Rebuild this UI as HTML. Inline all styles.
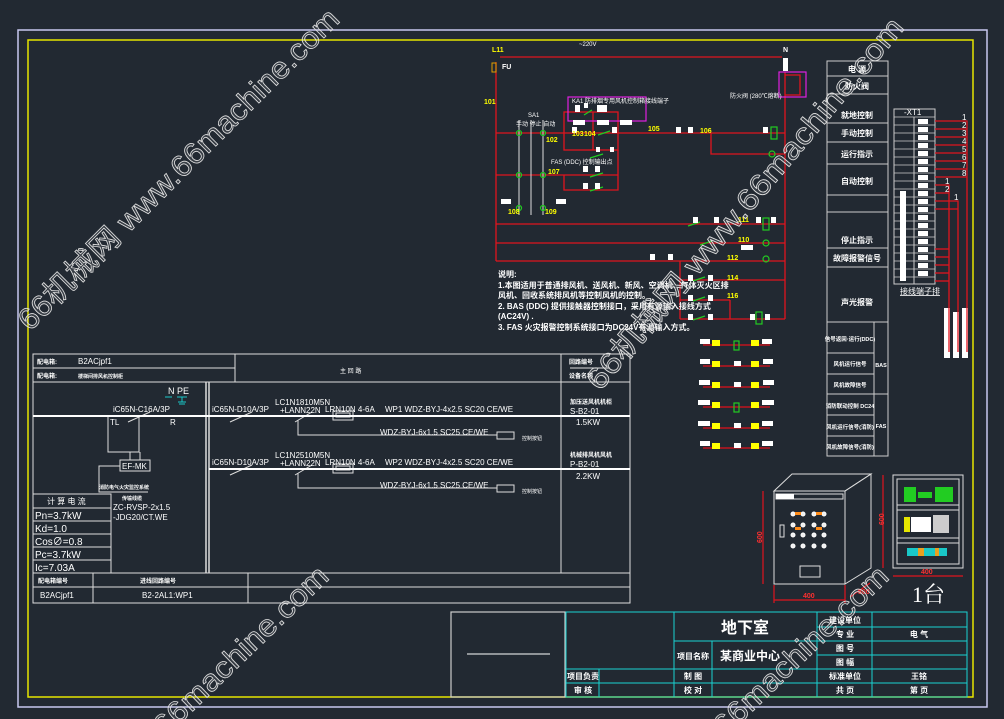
<!DOCTYPE html>
<html><head><meta charset="utf-8"><style>
html,body{margin:0;padding:0;background:#222932;}
svg{display:block;font-family:"Liberation Sans","Noto Sans CJK SC",sans-serif;}
.w{fill:#fff;font-size:8px;}
.y{fill:#ff0;font-size:7px;font-weight:bold;}
.wm{fill:rgba(255,255,255,0.10);stroke:#e0e0e0;stroke-width:0.8;font-size:30px;font-family:"Liberation Sans","Noto Sans CJK SC",sans-serif;}
</style></head><body>
<svg width="1004" height="719" viewBox="0 0 1004 719" xmlns="http://www.w3.org/2000/svg">
<rect width="1004" height="719" fill="#222932"/>
<rect x="18" y="30" width="969" height="677" fill="none" stroke="#c8c8f0" stroke-width="1.5"/>
<rect x="28" y="40" width="945" height="657" fill="none" stroke="#e6e600" stroke-width="1.5"/>

<g stroke="#e0141e" stroke-width="1.3" fill="none">
<line x1="496" y1="62" x2="496" y2="261"/>
<line x1="500" y1="57" x2="782" y2="57"/>
<line x1="785" y1="72" x2="785" y2="319"/>
<line x1="496" y1="133" x2="785" y2="133"/>
<line x1="496" y1="175" x2="618" y2="175"/>
<line x1="496" y1="224" x2="785" y2="224"/>
<line x1="496" y1="243" x2="785" y2="243"/>
<line x1="496" y1="261" x2="785" y2="261"/>
<polyline points="711,133 711,154 785,154"/>
<rect x="564" y="112" width="54" height="38"/>
<line x1="593" y1="112" x2="593" y2="150"/>
<polyline points="564,175 564,190 618,190 618,150"/>
<line x1="680" y1="261" x2="680" y2="319"/>
<line x1="680" y1="280" x2="785" y2="280"/>
<line x1="680" y1="300" x2="730" y2="300"/>
<line x1="730" y1="300" x2="730" y2="319"/>
<line x1="680" y1="319" x2="785" y2="319"/>
<polyline points="785,75 800,75 800,95 785,95"/>
</g>
<rect x="568" y="97" width="78" height="24" fill="none" stroke="#e020e0" stroke-width="1.2"/>
<rect x="779" y="72" width="27" height="25" fill="none" stroke="#e020e0" stroke-width="1.2"/>
<g stroke="#ddd" stroke-width="1"><line x1="519" y1="120" x2="519" y2="215"/><line x1="531" y1="120" x2="531" y2="215"/><line x1="543" y1="120" x2="543" y2="215"/></g>
<g fill="none" stroke="#22cc22" stroke-width="1.2">
<circle cx="519" cy="133" r="2.5"/><circle cx="543" cy="133" r="2.5"/><circle cx="519" cy="175" r="2.5"/><circle cx="543" cy="175" r="2.5"/><circle cx="519" cy="208" r="2.5"/><circle cx="543" cy="208" r="2.5"/>
<rect x="771" y="127" width="6" height="12"/><circle cx="772" cy="154" r="3"/><rect x="763" y="218" width="6" height="12"/><circle cx="766" cy="243" r="3"/><circle cx="766" cy="259" r="3"/><rect x="756" y="312" width="6" height="12"/>
<line x1="598" y1="135" x2="610" y2="131"/><line x1="688" y1="226" x2="700" y2="222"/><line x1="700" y1="245" x2="712" y2="241"/><line x1="693" y1="281" x2="705" y2="277"/><line x1="693" y1="301" x2="705" y2="297"/><line x1="693" y1="320" x2="705" y2="316"/><line x1="590" y1="158" x2="603" y2="154"/><line x1="590" y1="177" x2="603" y2="173"/><line x1="590" y1="191" x2="603" y2="187"/><line x1="584" y1="115" x2="592" y2="110"/>
</g>
<g class="w" font-size="7"><rect x="783" y="58" width="5" height="13" fill="#fff"/>
<rect x="575" y="105" width="5" height="7" fill="#fff"/><rect x="584" y="103" width="4" height="5" fill="#fff"/><rect x="597" y="105" width="5" height="7" fill="#fff"/><rect x="602" y="105" width="5" height="7" fill="#fff"/>
<rect x="573" y="120" width="12" height="5" fill="#fff"/><rect x="597" y="120" width="12" height="5" fill="#fff"/><rect x="620" y="120" width="12" height="5" fill="#fff"/>
<rect x="572" y="127" width="5" height="6" fill="#fff"/><rect x="612" y="127" width="5" height="6" fill="#fff"/><rect x="596" y="147" width="4" height="5" fill="#fff"/><rect x="610" y="147" width="4" height="5" fill="#fff"/>
<rect x="583" y="166" width="5" height="6" fill="#fff"/><rect x="595" y="166" width="5" height="6" fill="#fff"/><rect x="583" y="183" width="5" height="6" fill="#fff"/><rect x="595" y="183" width="5" height="6" fill="#fff"/>
<rect x="501" y="199" width="10" height="5" fill="#fff"/><rect x="556" y="199" width="10" height="5" fill="#fff"/>
<rect x="693" y="217" width="5" height="6" fill="#fff"/><rect x="714" y="217" width="5" height="6" fill="#fff"/><rect x="756" y="217" width="5" height="6" fill="#fff"/><rect x="771" y="217" width="5" height="6" fill="#fff"/><rect x="741" y="245" width="12" height="5" fill="#fff"/><rect x="650" y="254" width="5" height="6" fill="#fff"/><rect x="668" y="254" width="5" height="6" fill="#fff"/><rect x="688" y="275" width="5" height="6" fill="#fff"/><rect x="708" y="275" width="5" height="6" fill="#fff"/><rect x="688" y="295" width="5" height="6" fill="#fff"/><rect x="708" y="295" width="5" height="6" fill="#fff"/><rect x="688" y="314" width="5" height="6" fill="#fff"/><rect x="708" y="314" width="5" height="6" fill="#fff"/><rect x="750" y="314" width="5" height="6" fill="#fff"/><rect x="765" y="314" width="5" height="6" fill="#fff"/><rect x="676" y="127" width="5" height="6" fill="#fff"/><rect x="688" y="127" width="5" height="6" fill="#fff"/><rect x="763" y="127" width="5" height="6" fill="#fff"/>
<text x="579" y="46" font-size="6">~220V</text><text x="730" y="98" font-size="6">防火阀 (280℃熔断)</text>
<text x="572" y="103" font-size="6">KA1 防排烟专用风机控制箱接线端子</text>
<text x="551" y="164" font-size="6">FAS (DDC) 控制输出点</text>
<text x="528" y="117" font-size="6">SA1</text><text x="516" y="126" font-size="6">手动  停止  自动</text>
</g>
<g class="y"><text x="492" y="52">L11</text><text x="484" y="104">101</text><text x="502" y="69" fill="#fff">FU</text><text x="546" y="142">102</text><text x="572" y="136">103</text><text x="584" y="136">104</text><text x="648" y="131">105</text><text x="700" y="133">106</text><text x="548" y="174">107</text><text x="508" y="214">108</text><text x="545" y="214">109</text><text x="738" y="222">111</text><text x="738" y="242">110</text><text x="727" y="260">112</text><text x="727" y="280">114</text><text x="727" y="298">116</text><text x="783" y="52" fill="#fff">N</text></g>
<rect x="492" y="63" width="4" height="9" fill="none" stroke="#e0a000"/>
<g class="w" font-size="7.5" font-weight="bold">
<text x="498" y="277">说明:</text>
<text x="498" y="288">1.本图适用于普通排风机、送风机、新风、空调机、气体灭火区排</text>
<text x="498" y="298">风机、回收系统排风机等控制风机的控制。</text>
<text x="498" y="309">2. BAS (DDC) 提供接触器控制接口，采用有源输入接线方式</text>
<text x="498" y="319">(AC24V) .</text>
<text x="498" y="330">3. FAS 火灾报警控制系统接口为DC24V有源输入方式。</text>
</g>

<g stroke="#c0141e" stroke-width="1.5">
<line x1="703" y1="345" x2="770" y2="345"/><line x1="703" y1="366" x2="770" y2="366"/><line x1="703" y1="387" x2="770" y2="387"/><line x1="703" y1="407" x2="770" y2="407"/><line x1="703" y1="428" x2="770" y2="428"/><line x1="703" y1="448" x2="770" y2="448"/>
</g>
<g fill="#ff0"><rect x="712" y="340" width="8" height="6"/><rect x="751" y="340" width="8" height="6"/><rect x="712" y="361" width="8" height="6"/><rect x="751" y="361" width="8" height="6"/><rect x="712" y="382" width="8" height="6"/><rect x="751" y="382" width="8" height="6"/><rect x="712" y="402" width="8" height="6"/><rect x="751" y="402" width="8" height="6"/><rect x="712" y="423" width="8" height="6"/><rect x="751" y="423" width="8" height="6"/><rect x="712" y="443" width="8" height="6"/><rect x="751" y="443" width="8" height="6"/></g>
<g fill="#fff"><rect x="700" y="339" width="10" height="5"/><rect x="762" y="339" width="10" height="5"/><rect x="700" y="359" width="10" height="5"/><rect x="763" y="359" width="10" height="5"/><rect x="699" y="380" width="11" height="5"/><rect x="763" y="380" width="11" height="5"/><rect x="698" y="400" width="12" height="5"/><rect x="762" y="400" width="12" height="5"/><rect x="698" y="421" width="12" height="5"/><rect x="762" y="421" width="11" height="5"/><rect x="700" y="441" width="10" height="5"/><rect x="762" y="441" width="11" height="5"/><rect x="734" y="361" width="7" height="5"/><rect x="734" y="382" width="7" height="5"/><rect x="734" y="423" width="7" height="5"/><rect x="734" y="443" width="7" height="5"/></g>
<g fill="none" stroke="#22cc22" stroke-width="1.2"><rect x="734" y="341" width="5" height="9"/><rect x="734" y="403" width="5" height="9"/></g>

<g stroke="#ccc" stroke-width="1" fill="none">
<rect x="827" y="61" width="61" height="395"/>
<line x1="827" y1="76" x2="888" y2="76"/><line x1="827" y1="94" x2="888" y2="94"/><line x1="827" y1="123" x2="888" y2="123"/><line x1="827" y1="142" x2="888" y2="142"/><line x1="827" y1="164" x2="888" y2="164"/><line x1="827" y1="195" x2="888" y2="195"/><line x1="827" y1="212" x2="888" y2="212"/><line x1="827" y1="248" x2="888" y2="248"/><line x1="827" y1="267" x2="888" y2="267"/><line x1="827" y1="322" x2="888" y2="322"/><line x1="827" y1="353" x2="874" y2="353"/><line x1="827" y1="374" x2="874" y2="374"/><line x1="827" y1="394" x2="888" y2="394"/><line x1="827" y1="415" x2="874" y2="415"/><line x1="827" y1="436" x2="874" y2="436"/><line x1="874" y1="322" x2="874" y2="456"/>
<rect x="894" y="109" width="41" height="175"/><line x1="914" y1="117" x2="914" y2="284"/>
</g>
<g stroke="#ccc" stroke-width="0.8"><line x1="894" y1="117" x2="935" y2="117"/><line x1="894" y1="125" x2="935" y2="125"/><line x1="894" y1="133" x2="935" y2="133"/><line x1="894" y1="141" x2="935" y2="141"/><line x1="894" y1="149" x2="935" y2="149"/><line x1="894" y1="157" x2="935" y2="157"/><line x1="894" y1="165" x2="935" y2="165"/><line x1="894" y1="173" x2="935" y2="173"/><line x1="894" y1="181" x2="935" y2="181"/><line x1="894" y1="189" x2="935" y2="189"/><line x1="894" y1="197" x2="935" y2="197"/><line x1="894" y1="205" x2="935" y2="205"/><line x1="894" y1="213" x2="935" y2="213"/><line x1="894" y1="221" x2="935" y2="221"/><line x1="894" y1="229" x2="935" y2="229"/><line x1="894" y1="237" x2="935" y2="237"/><line x1="894" y1="245" x2="935" y2="245"/><line x1="894" y1="253" x2="935" y2="253"/><line x1="894" y1="261" x2="935" y2="261"/><line x1="894" y1="269" x2="935" y2="269"/><line x1="894" y1="277" x2="935" y2="277"/></g>
<g fill="#fff"><rect x="918" y="119" width="10" height="5"/><rect x="918" y="127" width="10" height="5"/><rect x="918" y="135" width="10" height="5"/><rect x="918" y="143" width="10" height="5"/><rect x="918" y="151" width="10" height="5"/><rect x="918" y="159" width="10" height="5"/><rect x="918" y="167" width="10" height="5"/><rect x="918" y="175" width="10" height="5"/><rect x="918" y="183" width="10" height="5"/><rect x="918" y="191" width="10" height="5"/><rect x="918" y="199" width="10" height="5"/><rect x="918" y="207" width="10" height="5"/><rect x="918" y="215" width="10" height="5"/><rect x="918" y="223" width="10" height="5"/><rect x="918" y="231" width="10" height="5"/><rect x="918" y="239" width="10" height="5"/><rect x="918" y="247" width="10" height="5"/><rect x="918" y="255" width="10" height="5"/><rect x="918" y="263" width="10" height="5"/><rect x="918" y="271" width="10" height="5"/><rect x="900" y="191" width="6" height="90"/>
<rect x="944" y="308" width="6" height="50"/><rect x="953" y="312" width="6" height="46"/><rect x="962" y="308" width="6" height="50"/></g>
<g stroke="#e0141e" stroke-width="1.3" fill="none"><polyline points="935,121 967,121 967,352"/><line x1="935" y1="129" x2="967" y2="129"/><line x1="935" y1="137" x2="967" y2="137"/><line x1="935" y1="145" x2="967" y2="145"/><line x1="935" y1="153" x2="967" y2="153"/><line x1="935" y1="161" x2="967" y2="161"/><line x1="935" y1="169" x2="967" y2="169"/><line x1="935" y1="177" x2="967" y2="177"/><polyline points="935,185 949,185 949,352"/><line x1="935" y1="193" x2="949" y2="193"/><polyline points="935,201 958,201 958,352"/><line x1="935" y1="209" x2="958" y2="209"/><line x1="935" y1="249" x2="949" y2="249"/><line x1="935" y1="257" x2="949" y2="257"/><line x1="935" y1="265" x2="949" y2="265"/><line x1="935" y1="273" x2="949" y2="273"/><line x1="935" y1="281" x2="949" y2="281"/></g>
<g class="w" font-size="6"><text x="962" y="120">1</text><text x="962" y="128">2</text><text x="962" y="136">3</text><text x="962" y="144">4</text><text x="962" y="152">5</text><text x="962" y="160">6</text><text x="962" y="168">7</text><text x="962" y="176">8</text><text x="945" y="184">1</text><text x="945" y="192">2</text><text x="954" y="200">1</text><text x="904" y="115">-XT1</text><text x="900" y="294" text-decoration="underline">接线端子排</text></g>
<g class="w" font-size="8" font-weight="bold" text-anchor="middle">
<text x="857" y="72">电  源</text><text x="857" y="89">防火阀</text><text x="857" y="118">就地控制</text><text x="857" y="136">手动控制</text><text x="857" y="157">运行指示</text><text x="857" y="184">自动控制</text><text x="857" y="243">停止指示</text><text x="857" y="261">故障报警信号</text><text x="857" y="305">声光报警</text>
<g font-size="5.5"><text x="850" y="341">信号返回·运行(DDC)</text><text x="850" y="366">风机运行信号</text><text x="850" y="387">风机故障信号</text><text x="850" y="408">消防联动控制 DC24</text><text x="850" y="429">风机运行信号(消防)</text><text x="850" y="449">风机故障信号(消防)</text><text x="881" y="367">BAS</text><text x="881" y="428">FAS</text></g>
</g>

<g stroke="#ddd" stroke-width="1" fill="none">
<rect x="33" y="354" width="597" height="249"/>
<line x1="33" y1="368" x2="235" y2="368"/><line x1="33" y1="382" x2="630" y2="382"/>
<line x1="235" y1="354" x2="235" y2="382"/><line x1="561" y1="354" x2="561" y2="573"/>
<line x1="33" y1="573" x2="630" y2="573"/><line x1="33" y1="587" x2="630" y2="587"/>
<line x1="93" y1="573" x2="93" y2="603"/><line x1="248" y1="573" x2="248" y2="603"/>
<line x1="206" y1="382" x2="206" y2="573" stroke-width="1.5"/><line x1="209" y1="382" x2="209" y2="573" stroke-width="1.5"/>
<line x1="570" y1="368" x2="610" y2="368"/>
<polyline points="33,494 111,494 111,573"/><line x1="33" y1="508" x2="111" y2="508"/><line x1="33" y1="521" x2="111" y2="521"/><line x1="33" y1="534" x2="111" y2="534"/><line x1="33" y1="547" x2="111" y2="547"/><line x1="33" y1="560" x2="111" y2="560"/>
<polyline points="108,417 108,452 130,452"/><polyline points="139,417 139,452 130,452"/>
<rect x="120" y="460" width="30" height="11"/><polyline points="130,452 130,460"/><polyline points="140,452 140,460"/>
<polyline points="120,466 99,466 99,492 148,492"/>
<line x1="128" y1="422" x2="150" y2="412"/>
<line x1="230" y1="422" x2="252" y2="412"/><line x1="230" y1="475" x2="252" y2="465"/>
<line x1="295" y1="422" x2="312" y2="412"/><line x1="295" y1="475" x2="312" y2="465"/>
<polyline points="298,420 298,435 497,435"/><polyline points="298,473 298,488 497,488"/>
<rect x="333" y="411" width="20" height="9"/><rect x="336" y="413" width="14" height="4"/>
<rect x="333" y="464" width="20" height="9"/><rect x="336" y="466" width="14" height="4"/>
<rect x="497" y="432" width="17" height="7"/><rect x="497" y="485" width="17" height="7"/>
</g>
<g stroke="#fff" stroke-width="2"><line x1="33" y1="416" x2="630" y2="416"/><line x1="209" y1="469" x2="630" y2="469"/></g>
<g stroke="#19c8c8" stroke-width="1"><line x1="165" y1="397" x2="172" y2="397"/><line x1="177" y1="397" x2="187" y2="397"/><line x1="182" y1="397" x2="182" y2="402"/><line x1="178" y1="402" x2="186" y2="402"/><line x1="179" y1="404" x2="185" y2="404"/></g>
<g class="w" font-size="8">
<text x="37" y="364" font-size="6" font-weight="bold">配电箱:</text><text x="78" y="364">B2ACjpf1</text>
<text x="37" y="378" font-size="6" font-weight="bold">配电箱:</text><text x="78" y="378" font-size="5" font-weight="bold">楼梯间排风机控制柜</text>
<text x="340" y="373" font-size="6">主  回  路</text>
<text x="569" y="364" font-size="6" font-weight="bold">回路编号</text><text x="569" y="378" font-size="6" font-weight="bold">设备名称</text>
<text x="168" y="394" font-size="9">N  PE</text>
<text x="113" y="412">iC65N-C16A/3P</text><text x="110" y="425">TL</text><text x="170" y="425">R</text>
<text x="122" y="469" font-size="8">EF-MK</text><text x="99" y="489" font-size="5" font-weight="bold">消防电气火灾监控系统</text>
<text x="122" y="500" font-size="5" font-weight="bold">传输线缆</text>
<text x="113" y="510">ZC-RVSP-2x1.5</text><text x="113" y="520">-JDG20/CT.WE</text>
<text x="47" y="504" font-size="8">计 算 电 流</text>
<g font-size="10"><text x="35" y="519">Pn=3.7kW</text><text x="35" y="532">Kd=1.0</text><text x="35" y="545">Cos∅=0.8</text><text x="35" y="558">Pc=3.7kW</text><text x="35" y="571">Ic=7.03A</text></g>
<text x="212" y="412">iC65N-D10A/3P</text><text x="212" y="465">iC65N-D10A/3P</text>
<text x="275" y="405">LC1N1810M5N</text><text x="280" y="413">+LANN22N</text>
<text x="275" y="458">LC1N2510M5N</text><text x="280" y="466">+LANN22N</text>
<text x="325" y="412">LRN10N 4-6A</text><text x="325" y="465">LRN10N 4-6A</text>
<text x="385" y="412">WP1  WDZ-BYJ-4x2.5 SC20 CE/WE</text><text x="385" y="465">WP2  WDZ-BYJ-4x2.5 SC20 CE/WE</text>
<text x="380" y="435">WDZ-BYJ-6x1.5 SC25 CE/WE</text><text x="380" y="488">WDZ-BYJ-6x1.5 SC25 CE/WE</text>
<text x="522" y="440" font-size="5">控制按钮</text><text x="522" y="493" font-size="5">控制按钮</text>
<text x="570" y="404" font-size="6" font-weight="bold">加压送风机机柜</text><text x="570" y="414">S-B2-01</text><text x="576" y="425">1.5KW</text>
<text x="570" y="457" font-size="6" font-weight="bold">机械排风机风机</text><text x="570" y="467">P-B2-01</text><text x="576" y="479">2.2KW</text>
<text x="38" y="583" font-size="6" font-weight="bold">配电箱编号</text><text x="140" y="583" font-size="6" font-weight="bold">进线回路编号</text>
<text x="40" y="598">B2ACjpf1</text><text x="142" y="598">B2-2AL1:WP1</text>
</g>

<g stroke="#ddd" stroke-width="1" fill="none">
<rect x="774" y="491" width="71" height="93"/>
<polygon points="774,491 792,474 871,474 845,491"/>
<polygon points="845,491 871,474 871,568 845,584"/>
<rect x="776" y="494" width="67" height="5"/>
<rect x="800" y="566" width="20" height="11"/>
<rect x="780" y="525" width="4" height="12"/>
<rect x="893" y="475" width="70" height="93"/><rect x="897" y="479" width="62" height="85"/>
<line x1="897" y1="505" x2="959" y2="505"/><line x1="897" y1="510" x2="959" y2="510"/><line x1="897" y1="538" x2="959" y2="538"/><line x1="897" y1="543" x2="959" y2="543"/>
</g>
<g fill="#fff"><rect x="776" y="494" width="18" height="5"/></g>
<g fill="#eee" stroke="#fff"><circle cx="793" cy="514" r="2"/><circle cx="803" cy="514" r="2"/><circle cx="814" cy="514" r="2"/><circle cx="824" cy="514" r="2"/><circle cx="793" cy="525" r="2"/><circle cx="803" cy="525" r="2"/><circle cx="814" cy="525" r="2"/><circle cx="824" cy="525" r="2"/><circle cx="793" cy="535" r="2"/><circle cx="803" cy="535" r="2"/><circle cx="814" cy="535" r="2"/><circle cx="824" cy="535" r="2"/><circle cx="793" cy="546" r="2"/><circle cx="803" cy="546" r="2"/><circle cx="814" cy="546" r="2"/><circle cx="824" cy="546" r="2"/></g>
<g fill="#ff8c1a"><rect x="795" y="512" width="6" height="3"/><rect x="816" y="512" width="6" height="3"/><rect x="795" y="527" width="6" height="3"/><rect x="816" y="527" width="6" height="3"/></g>
<g fill="#22cc22"><rect x="904" y="487" width="12" height="15"/><rect x="935" y="487" width="18" height="15"/><rect x="918" y="492" width="14" height="6"/></g>
<rect x="904" y="517" width="6" height="15" fill="#e6e600"/><rect x="911" y="517" width="20" height="15" fill="#fff"/><rect x="933" y="515" width="16" height="18" fill="#ccc"/>
<rect x="907" y="548" width="40" height="8" fill="#19c8c8"/><rect x="918" y="548" width="6" height="8" fill="#e8a020"/><rect x="935" y="548" width="4" height="8" fill="#e8a020"/>
<g stroke="#e0141e" stroke-width="1.2" fill="none"><line x1="763" y1="491" x2="763" y2="584"/><line x1="774" y1="600" x2="845" y2="600"/><line x1="774" y1="585" x2="774" y2="603"/><line x1="845" y1="585" x2="845" y2="603"/><line x1="850" y1="597" x2="870" y2="583"/><line x1="883" y1="475" x2="883" y2="568"/><line x1="893" y1="576" x2="963" y2="576"/></g>
<g fill="#ff3030" font-size="7" font-weight="bold"><text x="757" y="542" transform="rotate(-90 760 540)">600</text><text x="803" y="598">400</text><text x="858" y="594">300</text><text x="877" y="526" transform="rotate(-90 880 522)">600</text><text x="921" y="574">400</text></g>
<text x="912" y="602" fill="#fff" font-size="22" font-family="Liberation Serif,Noto Serif CJK SC,serif">1台</text>

<rect x="451" y="612" width="114" height="85" fill="none" stroke="#ccc" stroke-width="1.2"/>
<line x1="467" y1="654" x2="550" y2="654" stroke="#fff"/>
<g stroke="#19d2d2" stroke-width="1" fill="none">
<rect x="566" y="612" width="401" height="85"/>
<line x1="674" y1="612" x2="674" y2="697"/><line x1="817" y1="612" x2="817" y2="697"/><line x1="872" y1="612" x2="872" y2="697"/>
<line x1="712" y1="641" x2="712" y2="697"/><line x1="599" y1="669" x2="599" y2="697"/>
<line x1="674" y1="641" x2="967" y2="641"/><line x1="817" y1="627" x2="967" y2="627"/><line x1="817" y1="655" x2="967" y2="655"/>
<line x1="566" y1="669" x2="967" y2="669"/><line x1="566" y1="683" x2="967" y2="683"/>
</g>
<g class="w" font-weight="bold" text-anchor="middle" font-size="7">
<text x="745" y="633" font-size="16">地下室</text>
<text x="693" y="659">项目名称</text><text x="750" y="660" font-size="12">某商业中心</text>
<text x="583" y="679">项目负责</text><text x="583" y="693">审  核</text>
<text x="693" y="679">制  图</text><text x="693" y="693">校  对</text>
<text x="845" y="623">建设单位</text><text x="845" y="637">专  业</text><text x="919" y="637">电  气</text>
<text x="845" y="651">图  号</text><text x="845" y="665">图  幅</text><text x="845" y="679">标准单位</text><text x="919" y="679">王铭</text>
<text x="845" y="693">共  页</text><text x="919" y="693">第  页</text>
</g>

<text class="wm" x="0" y="0" transform="translate(30,332) rotate(-45)" textLength="440" lengthAdjust="spacingAndGlyphs">66机械网 www.66machine.com</text>
<text class="wm" x="0" y="0" transform="translate(600,392) rotate(-50)" textLength="475" lengthAdjust="spacingAndGlyphs">66机械网 www.66machine.com</text>
<text class="wm" x="0" y="0" transform="translate(165,738) rotate(-44)" textLength="230" lengthAdjust="spacingAndGlyphs">66machine.com</text>
<text class="wm" x="0" y="0" transform="translate(725,738) rotate(-44)" textLength="230" lengthAdjust="spacingAndGlyphs">66machine.com</text>
</svg>
</body></html>
